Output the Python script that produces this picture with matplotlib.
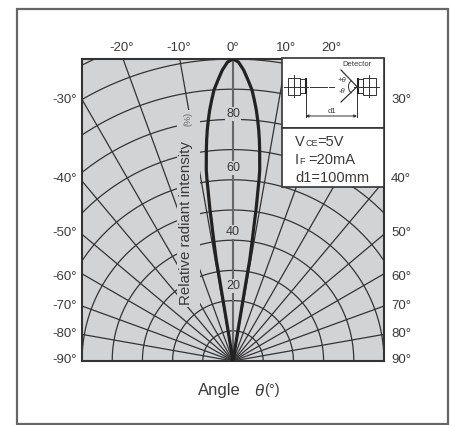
import numpy as np
from matplotlib import pyplot as plt
from matplotlib.patches import Rectangle, Arc

plt.rcParams['font.family'] = ['Liberation Sans', 'DejaVu Sans']

# half of the lobe: angle (deg) and intensity (%)
curve_angle = [0, 1.05, 2.1, 3.05, 4.0, 4.67, 5.3, 5.85, 6.35, 6.8, 7.2, 7.96, 8.17, 8.3,
               8.48, 8.66, 8.75, 9.06, 9.4, 9.36, 9.3, 9.2, 9.2]
curve_intensity = [100, 99, 96.4, 93.2, 90, 86.7, 83.5, 80.2, 77, 73.7, 70.4, 63.9, 60.6, 57.2,
                   53.9, 50.6, 47.2, 40.6, 33.9, 30.5, 20.5, 10.4, 0]

grid_angles = [-90, -80, -70, -60, -50, -40, -30, -20, -10, 10, 20, 30, 40, 50, 60, 70, 80, 90]
grid_radii = [10, 20, 30, 40, 50, 60, 70, 80, 90, 100, 110]

top_labels = ['-20°', '-10°', '0°', '10°', '20°']
left_labels = ['-30°', '-40°', '-50°', '-60°', '-70°', '-80°', '-90°']
right_labels = ['30°', '40°', '50°', '60°', '70°', '80°', '90°']
radial_labels = ['80', '60', '40', '20']

GRAY = '#d2d3d5'
DARK = '#333333'
TXT = '#3a3a3a'


def polar_xy(angle, r):
    a = np.radians(angle)
    return r * np.sin(a), r * np.cos(a)


fig = plt.figure(figsize=(4.5, 4.25), dpi=100)
ax = fig.add_axes([82 / 450, (425 - 361) / 425, 302 / 450, 302 / 425])
ax.set_xlim(-50, 50)
ax.set_ylim(0, 100)
ax.set_facecolor(GRAY)
ax.set_xticks([])
ax.set_yticks([])
for s in ax.spines.values():
    s.set_linewidth(1.5)
    s.set_color(DARK)

th = np.linspace(-90, 90, 361)
for r in grid_radii:
    x, y = polar_xy(th, r)
    ax.plot(x, y, color=DARK, lw=0.9, zorder=1)
for a in grid_angles:
    x, y = polar_xy(a, np.array([0, 130]))
    ax.plot(x, y, color=DARK, lw=0.9, zorder=1)
ax.plot([0, 0], [0, 100], color='#666666', lw=1.5, zorder=2)

# lobe, mirrored
ang = np.array(curve_angle)
inten = np.array(curve_intensity)
x, y = polar_xy(np.concatenate([-ang[::-1], ang[1:]]), np.concatenate([inten[::-1], inten[1:]]))
ax.plot(x, y, color='#222222', lw=2.3, zorder=4, solid_joinstyle='round')

# everything else is laid out on a full figure overlay in pixels
ov = fig.add_axes([0, 0, 1, 1], zorder=5)
ov.set_xlim(0, 450)
ov.set_ylim(425, 0)
ov.axis('off')
ov.add_patch(Rectangle((17, 8.5), 431, 415.5, fc='none', ec='#666666', lw=1.6))

# gap in the grid behind the y title
ov.add_patch(Rectangle((177, 110), 23, 197, fc=GRAY, ec='none'))

for lab, px in zip(top_labels, [122, 179, 233, 286, 331]):
    ov.text(px, 48, lab, ha='center', va='center', fontsize=9.5, color=TXT)
for lab, py in zip(left_labels, [100, 179, 233, 277, 306, 334, 360]):
    ov.text(77, py, lab, ha='right', va='center', fontsize=9.5, color=TXT)
for lab, py in zip(right_labels, [100, 179, 233, 277, 306, 334, 360]):
    ov.text(391, py, lab, ha='left', va='center', fontsize=9.5, color=TXT)
for lab, py in zip(radial_labels, [114, 168, 232, 286]):
    ov.text(233, py, lab, ha='center', va='center', fontsize=9, color=TXT,
            bbox=dict(fc=GRAY, ec='none', pad=0.8))

ov.text(186, 305, 'Relative radiant intensity', rotation=90, ha='center', va='bottom',
        fontsize=10.8, color=TXT)
ov.text(188, 119, '(%)', rotation=90, ha='center', va='center', fontsize=6.5, color='#666666')

ov.text(198, 391, 'Angle', ha='left', va='center', fontsize=12, color=TXT)
ov.text(254, 391, 'θ', ha='left', va='center', fontsize=12, style='italic', color=TXT)
ov.text(264, 390, '(°)', ha='left', va='center', fontsize=10.5, color=TXT)

# insets
ov.add_patch(Rectangle((282, 58), 102, 70, fc='white', ec=DARK, lw=1.2))
ov.add_patch(Rectangle((282, 128), 102, 59, fc='white', ec=DARK, lw=1.2))

lw_d = 0.7
ov.add_patch(Rectangle((287.5, 78), 12.5, 16.5, fc='none', ec=DARK, lw=lw_d))
ov.add_patch(Rectangle((300, 79), 5, 14, fc='none', ec=DARK, lw=lw_d))
ov.plot([305.5, 305.5], [79, 93], color='#222222', lw=1.5)
ov.add_patch(Rectangle((363, 78), 13, 16.5, fc='none', ec=DARK, lw=lw_d))
ov.add_patch(Rectangle((358, 79), 5, 14, fc='none', ec=DARK, lw=lw_d))
ov.plot([358, 358], [79, 93], color='#222222', lw=1.5)
ov.plot([284, 308], [86.7, 86.7], color=DARK, lw=lw_d)
ov.plot([294, 294], [75, 97], color=DARK, lw=lw_d)
ov.plot([310, 327], [86.7, 86.7], color=DARK, lw=lw_d)
ov.plot([329, 334], [86.7, 86.7], color=DARK, lw=lw_d)
ov.plot([354, 379], [86.7, 86.7], color=DARK, lw=lw_d)
ov.plot([369, 369], [75, 97], color=DARK, lw=lw_d)
ov.plot([341, 357, 341], [70, 86.7, 102], color=DARK, lw=0.9)
ov.add_patch(Arc((357, 86.7), 17, 17, theta1=130, theta2=230, ec=DARK, lw=lw_d))
ov.text(342, 80, '+θ', ha='center', va='center', fontsize=5.5, style='italic', color=TXT)
ov.text(342, 91, '-θ', ha='center', va='center', fontsize=5.5, style='italic', color=TXT)
ov.text(357, 64, 'Detector', ha='center', va='center', fontsize=5.5, color=TXT)
ov.plot([305.7, 305.7], [94, 117], color=DARK, lw=lw_d)
ov.plot([357, 357], [94, 117], color=DARK, lw=lw_d)
ov.annotate('', xy=(305.7, 116), xytext=(357, 116),
            arrowprops=dict(arrowstyle='<|-|>', color=DARK, lw=lw_d, mutation_scale=4,
                            shrinkA=0, shrinkB=0))
ov.text(332, 111, 'd1', ha='center', va='center', fontsize=5.5, color=TXT)

fs = 10.5
ov.text(295, 142, 'V', ha='left', va='center', fontsize=fs, color=TXT)
ov.text(305, 143, 'CE', ha='left', va='center', fontsize=6.5, color=TXT)
ov.text(317, 142, '=5V', ha='left', va='center', fontsize=fs, color=TXT)
ov.text(295, 160.5, 'I', ha='left', va='center', fontsize=fs, color=TXT)
ov.text(299.5, 161.5, 'F', ha='left', va='center', fontsize=6.5, color=TXT)
ov.text(308, 160.5, '=20mA', ha='left', va='center', fontsize=fs, color=TXT)
ov.text(295, 177.5, 'd1=100mm', ha='left', va='center', fontsize=fs, color=TXT)

fig.savefig('out.png', dpi=100)
